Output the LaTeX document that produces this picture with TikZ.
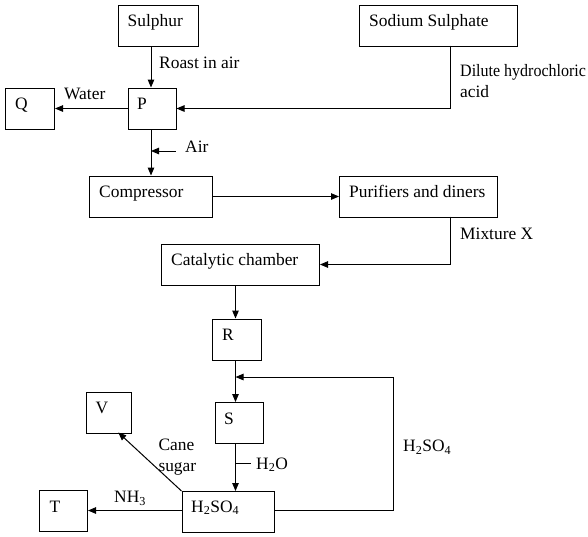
\documentclass[tikz,border=0pt]{standalone}
\usepackage{fontspec}
\setmainfont{Liberation Serif}
\usetikzlibrary{arrows.meta,calc}
\begin{document}
\begin{tikzpicture}[x=1pt,y=-1pt,
  every node/.style={font=\fontsize{17.4pt}{20.6pt}\selectfont},
  box/.style={draw,line width=1pt,inner sep=0pt,anchor=north west,minimum height=41pt},
  txt/.style={inner sep=0pt,anchor=base west},
  conn/.style={line width=1pt},
  arr/.style={line width=1pt,-{Triangle[length=8pt,width=6.5pt]}}]
\useasboundingbox (0,0) rectangle (588,536);
% boxes
\node[box,minimum width=80pt]    (sulphur) at (117.5,4.5) {};
\node[box,minimum width=157.5pt] (sodium)  at (359,4.5) {};
\node[box,minimum width=49pt]    (Q)       at (5,87.5) {};
\node[box,minimum width=48pt]    (P)       at (127.5,87.5) {};
\node[box,minimum width=122.5pt] (comp)    at (89,175.5) {};
\node[box,minimum width=157.5pt] (pur)     at (339,175.5) {};
\node[box,minimum width=158pt]   (cat)     at (161,243.5) {};
\node[box,minimum width=49pt]    (R)       at (212,318.5) {};
\node[box,minimum width=48pt]    (S)       at (214.5,402) {};
\node[box,minimum width=45.5pt]  (V)       at (85.5,391.5) {};
\node[box,minimum width=48pt]    (T)       at (39,490) {};
\node[box,minimum width=92.5pt]  (H)       at (181.5,491) {};
% box texts
\node[txt] (tsulphur) at ($(sulphur.north west)+(10,22)$) {Sulphur};
\node[txt] (tsodium)  at ($(sodium.north west)+(10,22)$) {Sodium Sulphate};
\node[txt] (tQ)       at ($(Q.north west)+(10,22)$) {Q};
\node[txt] (tP)       at ($(P.north west)+(9.5,22)$) {P};
\node[txt] (tcomp)    at ($(comp.north west)+(10,22)$) {Compressor};
\node[txt] (tpur)     at ($(pur.north west)+(10,22)$) {Purifiers and diners};
\node[txt] (tcat)     at ($(cat.north west)+(10,22)$) {Catalytic chamber};
\node[txt] (tR)       at ($(R.north west)+(10,22)$) {R};
\node[txt] (tS)       at ($(S.north west)+(9.5,22)$) {S};
\node[txt] (tV)       at ($(V.north west)+(10,22)$) {V};
\node[txt] (tT)       at ($(T.north west)+(10.5,22)$) {T};
\node[txt] (tH)       at ($(H.north west)+(9.5,21)$) {H\textsubscript{2}SO\textsubscript{4}};
% connector labels
\node[txt] (lroast) at (159,68) {Roast in air};
\node[txt] (lwater) at (64,99.5) {Water};
\node[txt] (ldil1)  at (460,76.7) {\scalebox{0.92}[1]{Dilute hydrochloric}};
\node[txt] (ldil2)  at (460,97.3) {acid};
\node[txt] (lair)   at (185,152.7) {Air};
\node[txt] (lmix)   at (460,239.3) {Mixture X};
\node[txt] (lcane)  at (158.3,450.7) {Cane};
\node[txt] (lsugar) at (158.3,471.7) {sugar};
\node[txt] (lwat2)  at (256,469) {H\textsubscript{2}O};
\node[txt] (lloop)  at (403,451.7) {H\textsubscript{2}SO\textsubscript{4}};
\node[txt] (lnh3)   at (114,502.7) {NH\textsubscript{3}};
% coordinates
\coordinate (sodtap) at (450,45.5);
\coordinate (purtap) at (450,216.5);
\coordinate (airstart) at (175.5,151);
\coordinate (loopcorner) at (393,377);
\coordinate (wtick) at (250.7,463.3);
\coordinate (vtip) at (118.3,432.5);
\coordinate (xP) at (151,0);
\coordinate (xR) at (235.5,0);
\coordinate (yH) at (0,510.5);
% connectors
\draw[arr] (sulphur.south -| xP) -- (P.north -| xP);
\draw[arr] (sodtap) |- (P.east);
\draw[arr] (P.west) -- (Q.east);
\draw[arr] (P.south -| xP) -- (comp.north -| xP);
\draw[arr] (airstart) -- (airstart -| xP);
\draw[arr] (comp.east) -- (pur.west);
\draw[arr] (purtap) |- (cat.east);
\draw[arr] (cat.south -| xR) -- (R.north -| xR);
\draw[arr] (R.south -| xR) -- (S.north -| xR);
\draw[arr] (H.east |- yH) -| (loopcorner) -- (loopcorner -| xR);
\draw[arr] (S.south -| xR) -- (H.north -| xR);
\draw[conn] (wtick) -- (wtick -| xR);
\draw[arr] (H.west |- yH) -- (T.east |- yH);
\draw[arr] (H.north west) -- (vtip);
\end{tikzpicture}
\end{document}
